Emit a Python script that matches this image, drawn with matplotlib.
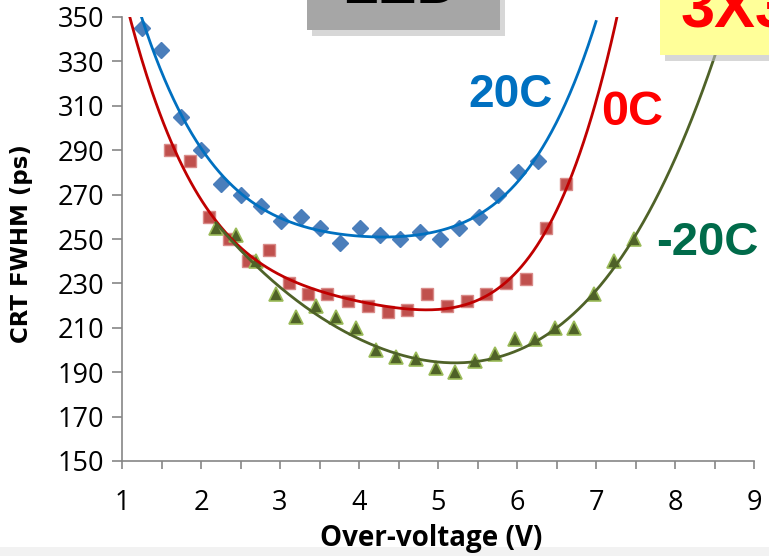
import numpy as np
import matplotlib
matplotlib.use("Agg")
import matplotlib.pyplot as plt
from matplotlib.patches import Rectangle

# Over-voltage (V) and CRT FWHM (ps)
x_20c = [1.25, 1.49, 1.75, 2.00, 2.25, 2.50, 2.76, 3.01, 3.27, 3.50, 3.76,
         4.01, 4.27, 4.52, 4.77, 5.03, 5.27, 5.52, 5.76, 6.01, 6.27]
y_20c = [345, 335, 305, 290, 275, 270, 265, 258, 260, 255, 248,
         255, 252, 250, 253, 250, 255, 260, 270, 280, 285]

x_0c = [1.61, 1.86, 2.10, 2.35, 2.60, 2.86, 3.11, 3.35, 3.60, 3.86, 4.11,
        4.37, 4.61, 4.86, 5.11, 5.37, 5.61, 5.86, 6.11, 6.37, 6.62]
y_0c = [290, 285, 260, 250, 240, 245, 230, 225, 225, 222, 220,
        217, 218, 225, 220, 222, 225, 230, 232, 255, 275]

x_m20c = [2.19, 2.44, 2.70, 2.95, 3.20, 3.46, 3.71, 3.96, 4.22, 4.47, 4.72,
          4.97, 5.22, 5.47, 5.72, 5.97, 6.23, 6.48, 6.72, 6.97, 7.23, 7.48]
y_m20c = [255, 252, 240, 225, 215, 220, 215, 210, 200, 197, 196,
          192, 190, 195, 198, 205, 205, 210, 210, 225, 240, 250]

xticks = [1, 2, 3, 4, 5, 6, 7, 8, 9]
yticks = [150, 170, 190, 210, 230, 250, 270, 290, 310, 330, 350]

plt.rcParams['font.family'] = ['Open Sans', 'DejaVu Sans']

fig = plt.figure(figsize=(7.69, 5.56), dpi=100)
ax = fig.add_axes([122 / 769, 1 - 461 / 556, 632 / 769, 444 / 556])


def trend(x, y, lo, hi, deg=4):
    # polynomial trendline, like the spreadsheet one
    p = np.polyfit(x, y, deg)
    xs = np.linspace(lo, hi, 400)
    return xs, np.polyval(p, xs)


series = [
    (x_20c, y_20c, "#0070C0", dict(marker="D", ms=8.5, mfc="#4A7EBB", mec="#4A7EBB"), (1.25, 7.0)),
    (x_0c, y_0c, "#C00000", dict(marker="s", ms=8.5, mfc="#C0504D", mec="#D98A88"), (1.05, 7.6)),
    (x_m20c, y_m20c, "#4F6228", dict(marker="^", ms=10, mfc="#4F6228", mec="#9BBB59", mew=1.2), (2.19, 9.0)),
]
for x, y, lc, mk, (lo, hi) in series:
    ax.plot(x, y, ls="none", zorder=3, **mk)
    xs, ys = trend(x, y, lo, hi)
    ax.plot(xs, ys, color=lc, lw=2, zorder=4)

ax.set_xlim(1, 9)
ax.set_ylim(150, 350)
ax.set_xticks(xticks)
ax.set_xticks(np.arange(1.5, 9, 1), minor=True)
ax.set_yticks(yticks)
for s in ["top", "right"]:
    ax.spines[s].set_visible(False)
for s in ["left", "bottom"]:
    ax.spines[s].set_color("#868686")
    ax.spines[s].set_linewidth(1.2)
ax.tick_params(axis="both", which="both", direction="out", color="#868686", width=1.2)
ax.tick_params(axis="x", which="both", length=6, labelsize=19.5, pad=14)
ax.tick_params(axis="y", length=7, labelsize=19.5, pad=6)
ax.set_xlabel("Over-voltage (V)", fontsize=20, fontweight="bold")
ax.xaxis.set_label_coords(0.49, -0.141)
ax.set_ylabel("CRT FWHM (ps)", fontsize=16.5, fontweight="bold", family="DejaVu Sans")
ax.yaxis.set_label_coords(-0.141, 0.49)

# curve labels
ax.text(0.614, 0.824, "20C", transform=ax.transAxes, fontsize=33, fontweight="bold",
        color="#0070C0", family="Liberation Sans", ha="center", va="center")
ax.text(0.807, 0.784, "0C", transform=ax.transAxes, fontsize=35, fontweight="bold",
        color="#FF0000", family="Liberation Sans", ha="center", va="center")
ax.text(0.926, 0.491, "-20C", transform=ax.transAxes, fontsize=34, fontweight="bold",
        color="#006B4A", family="Liberation Sans", ha="center", va="center")

# slide boxes cut off at the top
W, H = 769, 556
fig.patches.append(Rectangle((312 / W, 1 - 36 / H), 193 / W, 40 / H, transform=fig.transFigure,
                             facecolor="#BDBDBD", edgecolor="none", zorder=9, alpha=0.6))
fig.patches.append(Rectangle((307 / W, 1 - 30 / H), 193 / W, 30 / H, transform=fig.transFigure,
                             facecolor="#A6A6A6", edgecolor="none", zorder=10))
fig.text(400 / W, 1 - 3 / H, "LED", fontsize=42, fontweight="bold", color="black",
         family="Liberation Sans", ha="center", va="baseline", zorder=11)
fig.patches.append(Rectangle((665 / W, 1 - 61 / H), 110 / W, 61 / H, transform=fig.transFigure,
                             facecolor="#BDBDBD", edgecolor="none", zorder=9, alpha=0.6))
fig.patches.append(Rectangle((660 / W, 1 - 55 / H), 110 / W, 55 / H, transform=fig.transFigure,
                             facecolor="#FFFF99", edgecolor="none", zorder=10))
fig.text(681 / W, 1 - 28 / H, "3X3", fontsize=44, fontweight="bold", color="#FF0000",
         family="Liberation Sans", ha="left", va="baseline", zorder=11)

# faint grey band along the bottom of the slide, behind everything
fig.patches.append(Rectangle((0, 0), 1, 9 / H, transform=fig.transFigure,
                             facecolor="#F2F2F2", edgecolor="none", zorder=-5))

fig.savefig("out.png", dpi=100)
